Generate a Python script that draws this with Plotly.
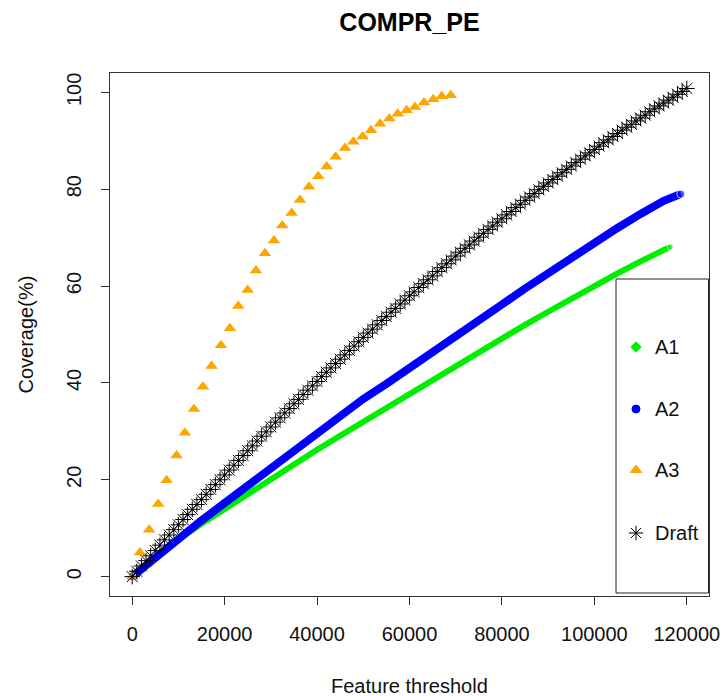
import plotly.graph_objects as go

# ---------------- data ----------------
a1_x = [0, 5000, 10000, 15000, 20000, 25000, 30000, 35000, 40000, 45000, 50000, 55000,
        60000, 65000, 70000, 75000, 80000, 85000, 90000, 95000, 100000, 105000, 110000, 116400]
a1_y = [0, 4.0, 7.7, 10.9, 14.0, 17.2, 20.3, 23.3, 26.2, 29.1, 32.0, 34.9,
        37.8, 40.7, 43.6, 46.4, 49.2, 52.0, 54.7, 57.4, 60.0, 62.6, 65.1, 68.1]

a2_x = [0, 5000, 10000, 15000, 20000, 25000, 30000, 35000, 40000, 45000, 50000, 55000,
        60000, 65000, 70000, 75000, 80000, 85000, 90000, 95000, 100000, 105000, 110000, 115000, 118700]
a2_y = [0, 4.0, 7.9, 11.6, 15.2, 18.8, 22.5, 26.3, 30.0, 33.4, 36.7, 39.8,
        43.0, 46.3, 49.6, 52.9, 56.2, 59.5, 62.7, 65.9, 69.0, 72.0, 74.9, 77.6, 79.0]

a3_x = [0, 1670, 3680, 5630, 7440, 9600, 11400, 13360, 15300, 17180, 19200, 21150,
        22950, 24980, 26770, 28720, 30670, 32470, 34500, 36300, 38250, 40260, 42080,
        44030, 46040, 47840, 49870, 51670, 53620, 55630, 57450, 59390, 61190, 63140,
        65160, 66970, 68920]
a3_y = [0, 5.0, 9.7, 15.0, 19.9, 25.0, 29.7, 34.6, 39.2, 43.5, 47.8, 51.3,
        55.9, 59.2, 63.2, 66.8, 69.4, 72.5, 75.1, 77.8, 80.5, 82.7, 84.7,
        86.7, 88.5, 89.8, 90.9, 92.2, 93.5, 94.6, 95.6, 96.3, 97.0, 97.9,
        98.6, 99.2, 99.4]

draft_x = [i * 1000 for i in range(121)]
draft_y = [0, 1.1, 2.2, 3.3, 4.3, 5.4, 6.5, 7.6, 8.6, 9.7, 10.7, 11.8, 12.8, 13.9, 14.9,
           15.9, 17.0, 18.0, 19.0, 20.0, 21.0, 22.0, 23.0, 24.0, 25.0, 26.0, 27.0, 28.0,
           29.0, 29.9, 30.9, 31.9, 32.8, 33.8, 34.7, 35.7, 36.6, 37.6, 38.5, 39.4, 40.3,
           41.3, 42.2, 43.1, 44.0, 44.9, 45.8, 46.7, 47.6, 48.5, 49.4, 50.3, 51.1, 52.0,
           52.9, 53.7, 54.6, 55.4, 56.3, 57.1, 58.0, 58.8, 59.7, 60.5, 61.3, 62.1, 63.0,
           63.8, 64.6, 65.4, 66.2, 67.0, 67.8, 68.5, 69.3, 70.1, 70.9, 71.7, 72.4, 73.2,
           73.9, 74.7, 75.4, 76.2, 76.9, 77.7, 78.4, 79.1, 79.9, 80.6, 81.3, 82.0, 82.7,
           83.4, 84.1, 84.8, 85.5, 86.2, 86.9, 87.5, 88.2, 88.9, 89.6, 90.2, 90.9, 91.5,
           92.2, 92.8, 93.4, 94.1, 94.7, 95.3, 96.0, 96.6, 97.2, 97.8, 98.4, 99.0, 99.6,
           100.2, 100.8]

series_names = ["A1", "A2", "A3", "Draft"]
x_ticks = [0, 20000, 40000, 60000, 80000, 100000, 120000]
y_ticks = [0, 20, 40, 60, 80, 100]

GREEN = "#00EE00"
BLUE = "#0000FF"
ORANGE = "#FFA500"
BLACK = "#000000"
FONT = "Liberation Sans, Arial, sans-serif"

# plot area in pixels
W, H = 724, 696
L, R, T, B = 110, 709, 73, 596


def end_caps(n, size):
    # round caps only at the two ends of a thick band
    return [size if i in (0, n - 1) else 0 for i in range(n)]


fig = go.Figure()

fig.add_trace(go.Scatter(x=a1_x, y=a1_y, mode="lines+markers",
                         line=dict(color=GREEN, width=6),
                         marker=dict(color=GREEN, size=end_caps(len(a1_x), 6)),
                         name="A1", showlegend=False))
fig.add_trace(go.Scatter(x=a2_x, y=a2_y, mode="lines+markers",
                         line=dict(color=BLUE, width=8),
                         marker=dict(color=BLUE, size=end_caps(len(a2_x), 8)),
                         name="A2", showlegend=False))
fig.add_trace(go.Scatter(x=a3_x, y=a3_y, mode="markers",
                         marker=dict(color=ORANGE, size=11, symbol="triangle-up"),
                         name="A3", showlegend=False))
fig.add_trace(go.Scatter(x=draft_x, y=draft_y, mode="markers",
                         marker=dict(color=BLACK, size=13, symbol="asterisk-open",
                                     line=dict(color=BLACK, width=1)),
                         name="Draft", showlegend=False))

# ---------------- legend (drawn in a pixel-space overlay axis) ----------------
leg_marker_x = 636
leg_rows_y = [347, 409, 470, 533]
leg_symbols = [("diamond", GREEN, 8), ("circle", BLUE, 8), ("triangle-up", ORANGE, 10),
               ("asterisk-open", BLACK, 12)]
for name, yy, (sym, col, sz) in zip(series_names, leg_rows_y, leg_symbols):
    fig.add_trace(go.Scatter(x=[leg_marker_x], y=[yy], xaxis="x2", yaxis="y2",
                             mode="markers", showlegend=False, hoverinfo="skip",
                             marker=dict(symbol=sym, color=col, size=sz,
                                         line=dict(color=col, width=1))))
    fig.add_annotation(x=653, y=yy, xref="x2", yref="y2", text=name, showarrow=False,
                       xanchor="left", yanchor="middle",
                       font=dict(family=FONT, size=20, color="#111"))

fig.add_shape(type="rect", xref="x2", yref="y2", x0=616, x1=708.5, y0=279, y1=593,
              line=dict(color="#222", width=1), fillcolor="rgba(0,0,0,0)")

axis_common = dict(showgrid=False, zeroline=False, showline=True, mirror=True,
                   linecolor="#333", linewidth=1, ticks="outside", ticklen=8,
                   tickcolor="#333", tickwidth=1, automargin=False,
                   tickfont=dict(family=FONT, size=20, color="#111"))

fig.update_layout(
    width=W, height=H, autosize=False,
    margin=dict(l=L, r=W - R, t=T, b=H - B, pad=0, autoexpand=False),
    paper_bgcolor="white", plot_bgcolor="white",
    showlegend=False,
    title=dict(text="<b>COMPR_PE</b>", x=0.5, xref="paper", xanchor="center",
               y=1 - 22 / H, yref="container", yanchor="middle",
               font=dict(family=FONT, size=25, color="#000")),
    xaxis=dict(range=[-4800, 124800], tickvals=x_ticks,
               ticktext=[str(v) for v in x_ticks], ticklabelstandoff=12, **axis_common),
    yaxis=dict(range=[-4, 104], tickvals=y_ticks, ticktext=[str(v) for v in y_ticks],
               tickangle=-90, ticklabelstandoff=12, **axis_common),
    xaxis2=dict(range=[L, R], overlaying="x", visible=False, domain=[0, 1]),
    yaxis2=dict(range=[B, T], overlaying="y", visible=False, domain=[0, 1]),
)

fig.add_annotation(text="Feature threshold", xref="paper", yref="paper",
                   x=0.5, y=(B - 686) / (B - T), showarrow=False,
                   xanchor="center", yanchor="middle",
                   font=dict(family=FONT, size=20, color="#111"))
fig.add_annotation(text="Coverage(%)", xref="paper", yref="paper",
                   x=(25 - L) / (R - L), y=0.5, showarrow=False, textangle=-90,
                   xanchor="center", yanchor="middle",
                   font=dict(family=FONT, size=20, color="#111"))

fig.write_html("out.html")
